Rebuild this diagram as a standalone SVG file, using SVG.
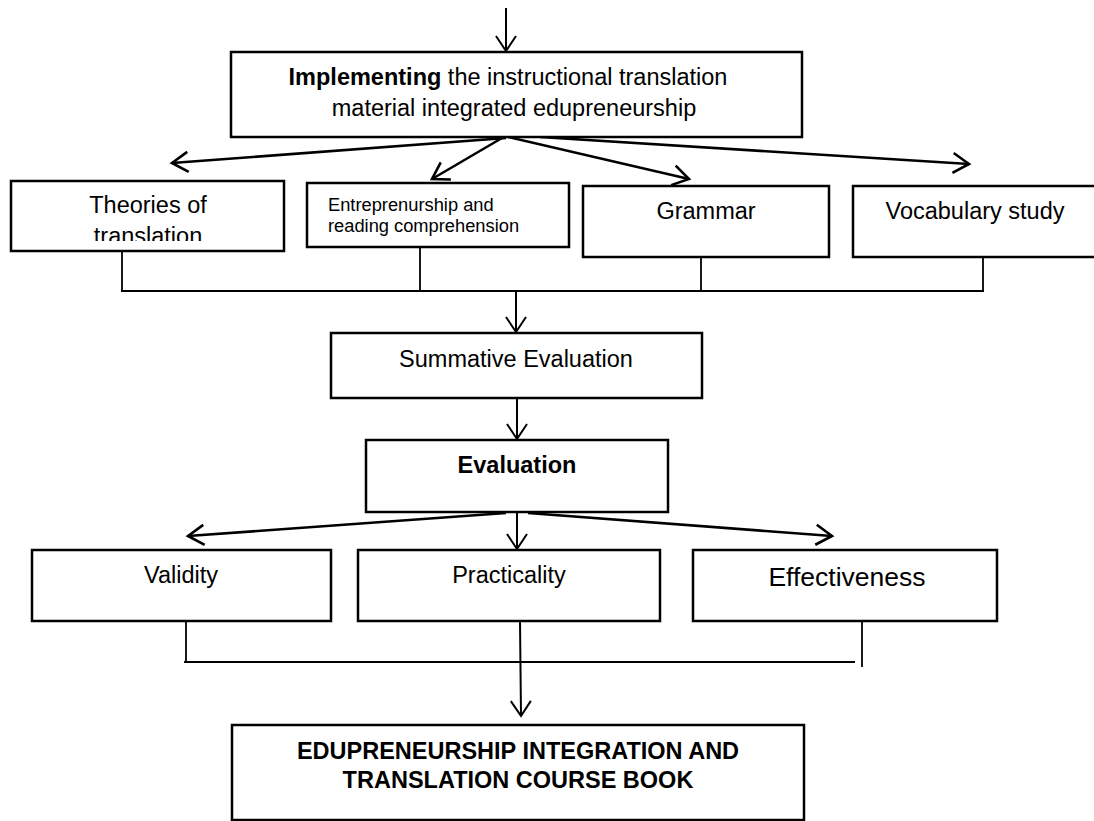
<svg xmlns="http://www.w3.org/2000/svg" width="1094" height="821" viewBox="0 0 1094 821">
  <style>
    .box { fill: #fff; stroke: #000; stroke-width: 2.5; }
    .t { font-family: "Liberation Sans", Arial, sans-serif; font-size: 23.5px; fill: #000; }
    .c { text-anchor: middle; }
    .b { font-weight: bold; }
    .ln { fill: none; stroke: #000; stroke-width: 2.2; }
    .thin { fill: none; stroke: #000; stroke-width: 1.8; }
    .arr { fill: none; stroke: #000; stroke-width: 2; marker-end: url(#vhead); }
    .fan { fill: none; stroke: #000; stroke-width: 2.6; marker-end: url(#vhead2); }
  </style>
  <defs>
    <marker id="vhead" markerUnits="userSpaceOnUse" viewBox="-17 -12 19 24" refX="0" refY="0" markerWidth="19" markerHeight="24" orient="auto" overflow="visible">
      <path d="M-15,-10 L0,0 L-15,10" fill="none" stroke="#000" stroke-width="2"/>
    </marker>
    <marker id="vhead2" markerUnits="userSpaceOnUse" viewBox="-17 -12 19 24" refX="0" refY="0" markerWidth="19" markerHeight="24" orient="auto" overflow="visible">
      <path d="M-16,-10 L0,0 L-16,10" fill="none" stroke="#000" stroke-width="2.6"/>
    </marker>
    <clipPath id="clipTheories">
      <rect x="12" y="182" width="271" height="59"/>
    </clipPath>
  </defs>

  <rect width="1094" height="821" fill="#fff"/>

  <!-- connectors -->
  <g id="connectors">
    <!-- entry into the implementation step -->
    <line class="arr" x1="506" y1="8" x2="506" y2="51"/>
    <!-- fan out to the four content areas -->
    <line class="fan" x1="506" y1="138" x2="172" y2="163"/>
    <line class="fan" x1="502" y1="138" x2="432" y2="179"/>
    <line class="fan" x1="508" y1="137" x2="689" y2="179"/>
    <line class="fan" x1="540" y1="137" x2="969" y2="164"/>
    <!-- collect the four content areas -->
    <line class="thin" x1="122" y1="251" x2="122" y2="292"/>
    <line class="thin" x1="420" y1="247" x2="420" y2="292"/>
    <line class="thin" x1="701" y1="257" x2="701" y2="292"/>
    <line class="thin" x1="983" y1="257" x2="983" y2="292"/>
    <line class="ln" x1="121" y1="291" x2="984" y2="291"/>
    <line class="arr" x1="516" y1="291" x2="516" y2="332"/>
    <!-- summative to evaluation -->
    <line class="arr" x1="517" y1="398" x2="517" y2="439"/>
    <!-- fan out to the three criteria -->
    <line class="fan" x1="506" y1="513" x2="188" y2="536"/>
    <line class="arr" x1="517" y1="513" x2="517" y2="549"/>
    <line class="fan" x1="528" y1="513" x2="832" y2="536"/>
    <!-- collect the criteria -->
    <line class="thin" x1="186" y1="621" x2="186" y2="663"/>
    <line class="thin" x1="862" y1="621" x2="862" y2="667"/>
    <line class="ln" x1="184" y1="662" x2="855" y2="662"/>
    <line class="arr" x1="520" y1="621" x2="521" y2="716"/>
  </g>

  <g id="implementing">
    <rect class="box" x="231" y="52" width="571" height="85"/>
    <text class="t c" x="508" y="85"><tspan class="b">Implementing</tspan> the instructional translation</text>
    <text class="t c" x="514" y="116">material integrated edupreneurship</text>
  </g>

  <g id="theories">
    <rect class="box" x="11" y="181" width="273" height="70"/>
    <g clip-path="url(#clipTheories)">
      <text class="t c" x="148" y="213">Theories of</text>
      <text class="t c" x="148" y="244">translation</text>
    </g>
  </g>

  <g id="entrepreneurship">
    <rect class="box" x="307" y="183" width="262" height="64"/>
    <text class="t" style="font-size:18.3px" x="328" y="211">Entreprenurship and</text>
    <text class="t" style="font-size:18.3px" x="328" y="232">reading comprehension</text>
  </g>

  <g id="grammar">
    <rect class="box" x="583" y="186" width="246" height="71"/>
    <text class="t c" x="706" y="219">Grammar</text>
  </g>

  <g id="vocabulary">
    <rect class="box" x="853" y="186" width="244" height="71"/>
    <text class="t c" x="975" y="219">Vocabulary study</text>
  </g>

  <g id="summative">
    <rect class="box" x="331" y="333" width="371" height="65"/>
    <text class="t c" x="516" y="367">Summative Evaluation</text>
  </g>

  <g id="evaluation">
    <rect class="box" x="366" y="440" width="302" height="72"/>
    <text class="t c b" x="517" y="473">Evaluation</text>
  </g>

  <g id="validity">
    <rect class="box" x="32" y="550" width="299" height="71"/>
    <text class="t c" x="181" y="583">Validity</text>
  </g>

  <g id="practicality">
    <rect class="box" x="358" y="550" width="302" height="71"/>
    <text class="t c" x="509" y="583">Practicality</text>
  </g>

  <g id="effectiveness">
    <rect class="box" x="693" y="550" width="304" height="71"/>
    <text class="t c" style="font-size:26.5px" x="847" y="586">Effectiveness</text>
  </g>

  <g id="coursebook">
    <rect class="box" x="232" y="725" width="572" height="95"/>
    <text class="t c b" x="518" y="759">EDUPRENEURSHIP INTEGRATION AND</text>
    <text class="t c b" x="518" y="788">TRANSLATION COURSE BOOK</text>
  </g>
</svg>
